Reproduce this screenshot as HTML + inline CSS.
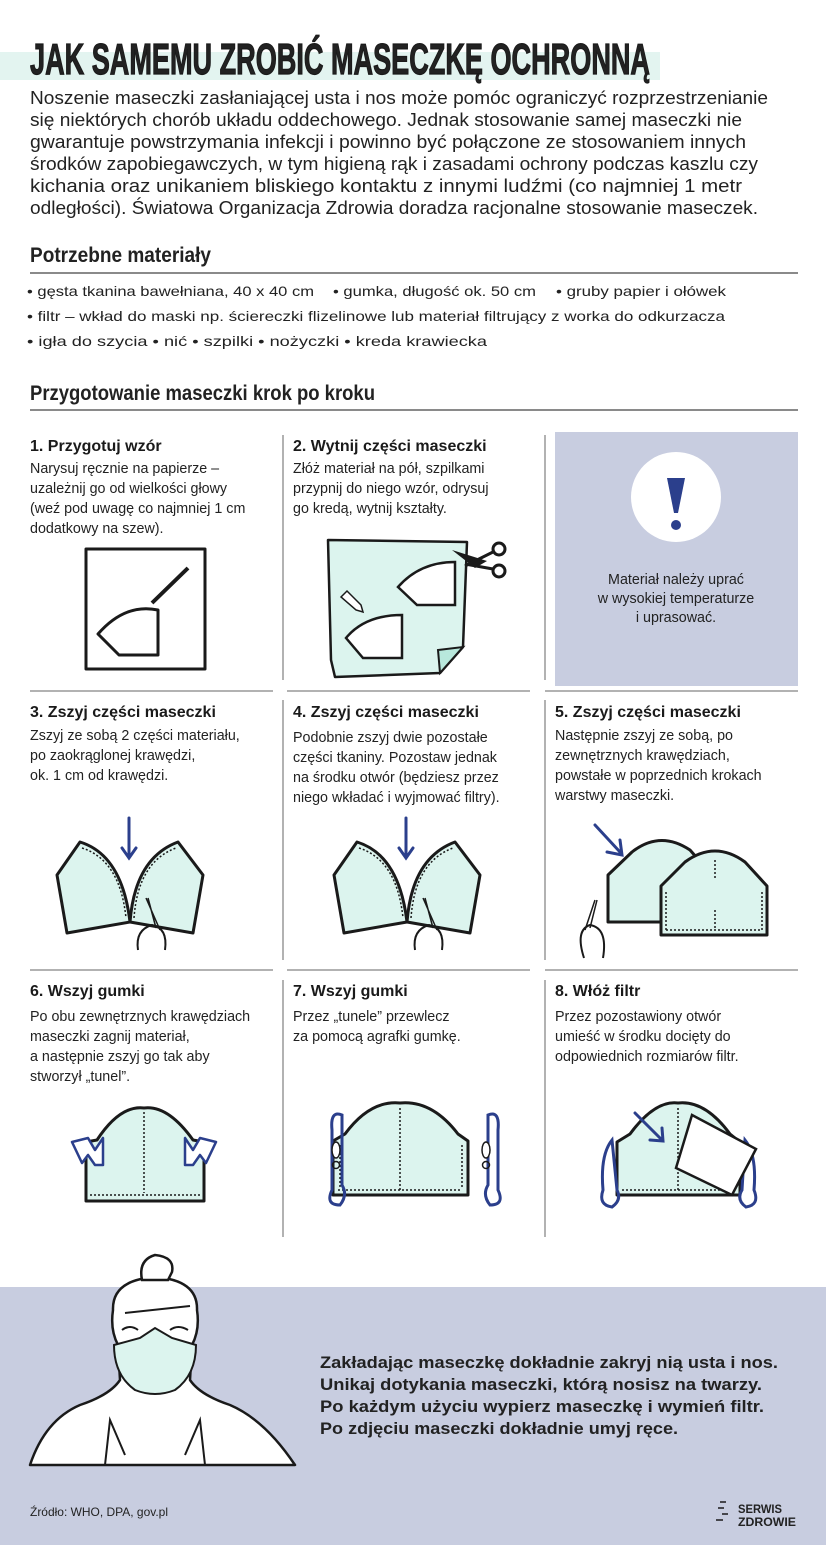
<!DOCTYPE html>
<html><head><meta charset="utf-8"><style>
html,body{margin:0;padding:0;background:#fff;}
svg{display:block;}
text{font-family:"Liberation Sans",sans-serif;fill:#222;}
.b{font-weight:bold;}
.body{font-size:14.3px;}
.h{font-size:16px;font-weight:bold;fill:#1a1a1a;}
.ln{stroke:#666;stroke-width:1;}
.blk{fill:none;stroke:#1a1a1a;stroke-width:3;stroke-linejoin:round;}
.mint{fill:#dcf4ee;stroke:#1a1a1a;stroke-width:3;stroke-linejoin:round;}
.dot{fill:none;stroke:#1a1a1a;stroke-width:1.5;stroke-dasharray:2 2;}
.navy{fill:none;stroke:#2b3f8c;stroke-width:3;stroke-linecap:round;}
</style></head><body>
<svg width="826" height="1550" viewBox="0 0 826 1550" xmlns="http://www.w3.org/2000/svg">
<!-- title -->
<rect x="0" y="52" width="660" height="28" fill="#e3f4f0"/>
<text x="30" y="74" font-size="44" class="b" textLength="620" lengthAdjust="spacingAndGlyphs" fill="#1a1a1a" stroke="#1a1a1a" stroke-width="1.2">JAK SAMEMU ZROBIĆ MASECZKĘ OCHRONNĄ</text>
<g font-size="18">
<text x="30" y="104" textLength="738" lengthAdjust="spacingAndGlyphs">Noszenie maseczki zasłaniającej usta i nos może pomóc ograniczyć rozprzestrzenianie</text>
<text x="30" y="126" textLength="712" lengthAdjust="spacingAndGlyphs">się niektórych chorób układu oddechowego. Jednak stosowanie samej maseczki nie</text>
<text x="30" y="148" textLength="716" lengthAdjust="spacingAndGlyphs">gwarantuje powstrzymania infekcji i powinno być połączone ze stosowaniem innych</text>
<text x="30" y="170" textLength="728" lengthAdjust="spacingAndGlyphs">środków zapobiegawczych, w tym higieną rąk i zasadami ochrony podczas kaszlu czy</text>
<text x="30" y="192" textLength="712" lengthAdjust="spacingAndGlyphs">kichania oraz unikaniem bliskiego kontaktu z innymi ludźmi (co najmniej 1 metr</text>
<text x="30" y="214" textLength="728" lengthAdjust="spacingAndGlyphs">odległości). Światowa Organizacja Zdrowia doradza racjonalne stosowanie maseczek.</text>
</g>
<text x="30" y="262" font-size="21" class="b" textLength="181" lengthAdjust="spacingAndGlyphs">Potrzebne materiały</text>
<line x1="30" y1="273" x2="798" y2="273" stroke="#444" stroke-width="1.2"/>
<g font-size="14">
<text x="27" y="296" textLength="287" lengthAdjust="spacingAndGlyphs">• gęsta tkanina bawełniana, 40 x 40 cm</text>
<text x="333" y="296" textLength="203" lengthAdjust="spacingAndGlyphs">• gumka, długość ok. 50 cm</text>
<text x="556" y="296" textLength="170" lengthAdjust="spacingAndGlyphs">• gruby papier i ołówek</text>
<text x="27" y="321" textLength="698" lengthAdjust="spacingAndGlyphs">• filtr – wkład do maski np. ściereczki flizelinowe lub materiał filtrujący z worka do odkurzacza</text>
<text x="27" y="346" textLength="460" lengthAdjust="spacingAndGlyphs">• igła do szycia   • nić   • szpilki   • nożyczki   • kreda krawiecka</text>
</g>
<text x="30" y="400" font-size="21" class="b" textLength="345" lengthAdjust="spacingAndGlyphs">Przygotowanie maseczki krok po kroku</text>
<line x1="30" y1="410" x2="798" y2="410" stroke="#444" stroke-width="1.2"/>

<!-- grid lines -->
<line class="ln" x1="283" y1="435" x2="283" y2="680"/>
<line class="ln" x1="545" y1="435" x2="545" y2="680"/>
<line class="ln" x1="30" y1="691" x2="273" y2="691"/>
<line class="ln" x1="287" y1="691" x2="530" y2="691"/>
<line class="ln" x1="545" y1="691" x2="798" y2="691"/>
<line class="ln" x1="283" y1="700" x2="283" y2="960"/>
<line class="ln" x1="545" y1="700" x2="545" y2="960"/>
<line class="ln" x1="30" y1="970" x2="273" y2="970"/>
<line class="ln" x1="287" y1="970" x2="530" y2="970"/>
<line class="ln" x1="545" y1="970" x2="798" y2="970"/>
<line class="ln" x1="283" y1="980" x2="283" y2="1237"/>
<line class="ln" x1="545" y1="980" x2="545" y2="1237"/>

<!-- row1 text -->
<text x="30" y="451" class="h">1. Przygotuj wzór</text>
<text x="30" y="473" class="body">Narysuj ręcznie na papierze  –</text>
<text x="30" y="493" class="body">uzależnij go od wielkości głowy</text>
<text x="30" y="513" class="body">(weź pod uwagę co najmniej 1 cm</text>
<text x="30" y="533" class="body">dodatkowy na szew).</text>
<text x="293" y="451" class="h">2. Wytnij części maseczki</text>
<text x="293" y="473" class="body">Złóż materiał na pół, szpilkami</text>
<text x="293" y="493" class="body">przypnij do niego wzór, odrysuj</text>
<text x="293" y="513" class="body">go kredą, wytnij kształty.</text>
<rect x="555" y="432" width="243" height="254" fill="#c8cde0"/>
<circle cx="676" cy="497" r="45" fill="#fff"/>
<path d="M667,478 L685,478 L678,513 L674,513 Z" fill="#2b3f8c"/>
<circle cx="676" cy="525" r="5" fill="#2b3f8c"/>
<text x="676" y="584" class="body" text-anchor="middle">Materiał należy uprać</text>
<text x="676" y="603" class="body" text-anchor="middle">w wysokiej temperaturze</text>
<text x="676" y="622" class="body" text-anchor="middle">i uprasować.</text>

<!-- step1 art -->
<rect x="86" y="549" width="119" height="120" class="blk"/>
<path d="M98,634 L119,655 L158,655 L158,610 Q125,603 98,634 Z" class="blk"/>
<line x1="152" y1="603" x2="188" y2="568" stroke="#1a1a1a" stroke-width="4"/>
<!-- step2 art -->
<path d="M328,540 L467,542 L463,647 L440,673 L335,677 L331,660 Z" fill="#dcf4ee" stroke="#1a1a1a" stroke-width="2.5" stroke-linejoin="round"/>
<path d="M440,673 L463,647 L438,650 Z" fill="#b8e8dc" stroke="#1a1a1a" stroke-width="2"/>
<path d="M398,587 L417,605 L455,605 L455,562 Q420,562 398,587 Z" fill="#fff" stroke="#1a1a1a" stroke-width="2.5"/>
<path d="M346,638 L363,658 L402,658 L402,615 Q365,615 346,638 Z" fill="#fff" stroke="#1a1a1a" stroke-width="2.5"/>
<path d="M341,597 L347,591 L361,605 L363,612 L356,610 Z" fill="#fff" stroke="#1a1a1a" stroke-width="1.5"/>
<path d="M452,550 L487,561 L475,568 Z" fill="#1a1a1a"/>
<circle cx="499" cy="549" r="6" fill="none" stroke="#1a1a1a" stroke-width="3"/>
<circle cx="499" cy="571" r="6" fill="none" stroke="#1a1a1a" stroke-width="3"/>
<path d="M465,566 L493,552 M465,564 L493,569" stroke="#1a1a1a" stroke-width="3"/>

<!-- row2 text -->
<text x="30" y="717" class="h">3. Zszyj części maseczki</text>
<text x="30" y="740" class="body">Zszyj ze sobą 2 części materiału,</text>
<text x="30" y="760" class="body">po zaokrąglonej krawędzi,</text>
<text x="30" y="780" class="body">ok. 1 cm od krawędzi.</text>
<text x="293" y="717" class="h">4. Zszyj części maseczki</text>
<text x="293" y="742" class="body">Podobnie zszyj dwie pozostałe</text>
<text x="293" y="762" class="body">części tkaniny. Pozostaw jednak</text>
<text x="293" y="782" class="body">na środku otwór (będziesz przez</text>
<text x="293" y="802" class="body">niego wkładać i wyjmować filtry).</text>
<text x="555" y="717" class="h">5. Zszyj części maseczki</text>
<text x="555" y="740" class="body">Następnie zszyj ze sobą, po</text>
<text x="555" y="760" class="body">zewnętrznych krawędziach,</text>
<text x="555" y="780" class="body">powstałe w poprzednich krokach</text>
<text x="555" y="800" class="body">warstwy maseczki.</text>

<!-- step3/4 art -->
<g id="s3">
<path d="M57,875 L80,842 Q122,855 130,922 L67,933 Z" class="mint"/>
<path d="M130,922 Q135,858 178,842 L203,875 L193,933 Z" class="mint"/>
<path d="M82,848 Q120,860 126,918" class="dot"/>
<path d="M134,918 Q138,862 176,848" class="dot"/>
<path d="M129,818 V856 M122,848 L129,858 L136,848" class="navy"/>
<path d="M146,898 L160,930 M148,898 L156,928" stroke="#1a1a1a" stroke-width="1.5"/>
<path d="M138,950 Q135,930 152,925 Q168,928 165,950" fill="none" stroke="#1a1a1a" stroke-width="2"/>
</g>
<use href="#s3" x="277" y="0"/>
<!-- step5 art -->
<path d="M608,922 V875 L632,852 Q660,830 690,850 L712,875 V922 Z" class="mint"/>
<path d="M661,935 V886 L685,862 Q715,840 745,862 L767,886 V935 Z" class="mint"/>
<path d="M666,930 H762 V890 M666,930 V890" class="dot"/>
<path d="M715,860 V880 M715,910 V930" class="dot"/>
<path d="M595,825 L620,852 M607,852 L622,855 L620,840" class="navy"/>
<path d="M595,900 L585,930 M597,900 L590,928" stroke="#1a1a1a" stroke-width="1.5"/>
<path d="M584,958 Q575,930 590,925 Q608,928 603,958" fill="none" stroke="#1a1a1a" stroke-width="2"/>

<!-- row3 text -->
<text x="30" y="996" class="h">6. Wszyj gumki</text>
<text x="30" y="1021" class="body">Po obu zewnętrznych krawędziach</text>
<text x="30" y="1041" class="body">maseczki zagnij materiał,</text>
<text x="30" y="1061" class="body">a następnie zszyj go tak aby</text>
<text x="30" y="1081" class="body">stworzył „tunel”.</text>
<text x="293" y="996" class="h">7. Wszyj gumki</text>
<text x="293" y="1021" class="body">Przez „tunele” przewlecz</text>
<text x="293" y="1041" class="body">za pomocą agrafki gumkę.</text>
<text x="555" y="996" class="h">8. Włóż filtr</text>
<text x="555" y="1021" class="body">Przez pozostawiony otwór</text>
<text x="555" y="1041" class="body">umieść w środku docięty do</text>
<text x="555" y="1061" class="body">odpowiednich rozmiarów filtr.</text>

<!-- step6 -->
<path d="M86,1201 V1142 L97,1140 Q120,1105 144,1108 Q168,1105 193,1140 L204,1142 V1201 Z" class="mint"/>
<path d="M144,1112 V1193 M90,1195 H200" class="dot"/>
<path d="M72,1142 L88,1138 L95,1150 L103,1138 L103,1165 L95,1165 L88,1155 L82,1163 Z" fill="#fff" stroke="#2b3f8c" stroke-width="2.5" stroke-linejoin="round"/>
<path d="M216,1142 L200,1138 L193,1150 L185,1138 L185,1165 L193,1165 L200,1155 L206,1163 Z" fill="#fff" stroke="#2b3f8c" stroke-width="2.5" stroke-linejoin="round"/>
<!-- step7 -->
<path d="M333,1195 V1141 L345,1134 Q370,1100 400,1103 Q432,1100 458,1134 L468,1141 V1195 Z" class="mint"/>
<path d="M400,1108 V1190 M338,1190 H462 M340,1145 V1188 M462,1145 V1188" class="dot"/>
<path d="M342,1115 Q330,1110 332,1130 V1190 Q325,1205 340,1205 Q348,1195 342,1185 Z" fill="none" stroke="#2b3f8c" stroke-width="3"/>
<path d="M488,1115 Q500,1110 498,1130 V1190 Q505,1205 490,1205 Q482,1195 488,1185 Z" fill="none" stroke="#2b3f8c" stroke-width="3"/>
<ellipse cx="336" cy="1150" rx="4" ry="8" fill="#fff" stroke="#1a1a1a" stroke-width="1.5"/>
<circle cx="336" cy="1165" r="3.5" fill="none" stroke="#1a1a1a" stroke-width="1.5"/>
<ellipse cx="486" cy="1150" rx="4" ry="8" fill="#fff" stroke="#1a1a1a" stroke-width="1.5"/>
<circle cx="486" cy="1165" r="3.5" fill="none" stroke="#1a1a1a" stroke-width="1.5"/>
<!-- step8 -->
<path d="M617,1195 V1142 L630,1134 Q655,1100 678,1103 Q705,1100 730,1134 L740,1142 V1195 Z" class="mint"/>
<path d="M678,1108 V1190 M622,1190 H735" class="dot"/>
<path d="M612,1140 Q600,1155 603,1190 Q598,1205 612,1207 Q622,1200 617,1190 Z" fill="none" stroke="#2b3f8c" stroke-width="3"/>
<path d="M745,1140 Q757,1155 754,1190 Q760,1205 746,1207 Q736,1200 742,1190 Z" fill="none" stroke="#2b3f8c" stroke-width="3"/>
<path d="M692,1115 L756,1149 L732,1195 L676,1168 Z" fill="#fff" stroke="#1a1a1a" stroke-width="2.5"/>
<path d="M635,1113 L662,1140 M650,1140 L663,1141 L662,1128" class="navy"/>

<!-- bottom band -->
<rect x="0" y="1287" width="826" height="258" fill="#c8cde0"/>
<path d="M30,1465 Q45,1420 80,1405 Q110,1395 120,1380 L118,1345 Q110,1330 113,1310 Q112,1280 155,1277 Q198,1280 197,1310 Q200,1330 192,1345 L190,1380 Q200,1395 230,1405 Q265,1420 295,1465 Z" fill="#fff" stroke="#1a1a1a" stroke-width="2.5" stroke-linejoin="round"/>
<path d="M142,1280 Q138,1260 155,1255 Q175,1257 172,1272 L168,1280 Z" fill="#fff" stroke="#1a1a1a" stroke-width="2.5"/>
<path d="M125,1313 L190,1306 M122,1330 Q130,1324 138,1330 M170,1330 Q178,1324 188,1330" fill="none" stroke="#1a1a1a" stroke-width="2"/>
<path d="M114,1345 L140,1338 L155,1328 L172,1338 L196,1345 Q196,1375 175,1390 Q155,1398 135,1390 Q114,1375 114,1345 Z" fill="#dcf4ee" stroke="#1a1a1a" stroke-width="2"/>
<path d="M105,1465 L110,1420 L125,1455 M205,1465 L200,1420 L185,1455" fill="none" stroke="#1a1a1a" stroke-width="2"/>
<g class="b" font-size="17" fill="#1a1a1a">
<text x="320" y="1368" textLength="458" lengthAdjust="spacingAndGlyphs">Zakładając maseczkę dokładnie zakryj nią usta i nos.</text>
<text x="320" y="1390" textLength="442" lengthAdjust="spacingAndGlyphs">Unikaj dotykania maseczki, którą nosisz na twarzy.</text>
<text x="320" y="1412" textLength="444" lengthAdjust="spacingAndGlyphs">Po każdym użyciu wypierz maseczkę i wymień filtr.</text>
<text x="320" y="1434" textLength="358" lengthAdjust="spacingAndGlyphs">Po zdjęciu maseczki dokładnie umyj ręce.</text>
</g>
<text x="30" y="1516" font-size="12" textLength="138" lengthAdjust="spacingAndGlyphs">Źródło: WHO, DPA, gov.pl</text>
<path d="M720,1502 H726 M718,1508 H724 M722,1514 H728 M716,1520 H723" stroke="#1a1a1a" stroke-width="1.5"/>
<text x="738" y="1513" font-size="12" class="b" textLength="44" lengthAdjust="spacingAndGlyphs">SERWIS</text>
<text x="738" y="1526" font-size="12" class="b" textLength="58" lengthAdjust="spacingAndGlyphs">ZDROWIE</text>
</svg>
</body></html>
